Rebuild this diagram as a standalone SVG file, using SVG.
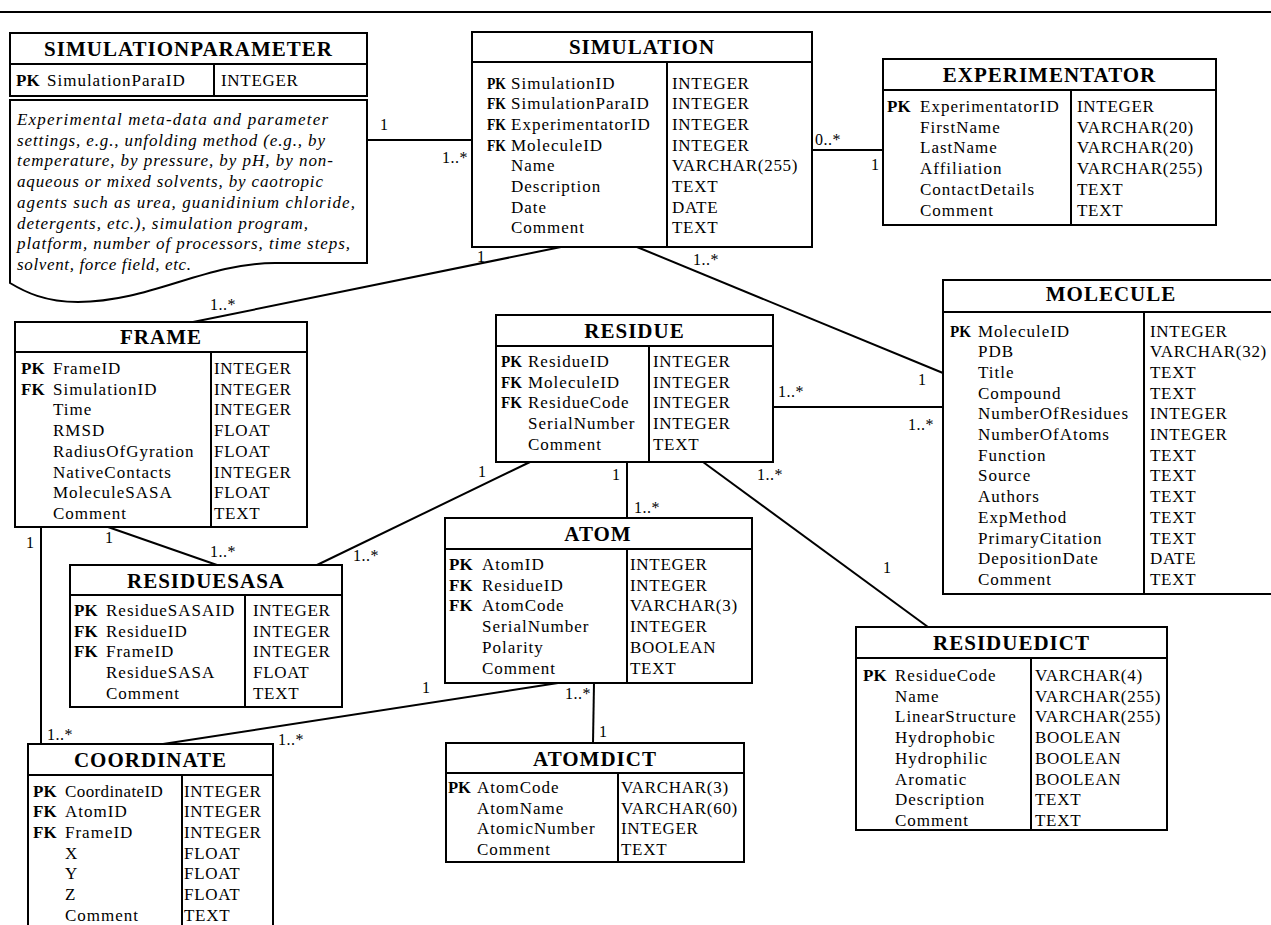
<svg xmlns="http://www.w3.org/2000/svg" width="1271" height="925" viewBox="0 0 1271 925">
<style>
.box{fill:#fff;stroke:#000;stroke-width:2}
.ln{stroke:#000;stroke-width:2;fill:none}
.t{font-family:"Liberation Serif","Times New Roman",serif;font-size:21px;font-weight:bold;text-anchor:middle;letter-spacing:1px;fill:#000}
.r{font-family:"Liberation Serif","Times New Roman",serif;font-size:17px;letter-spacing:1px;fill:#000}
.y{letter-spacing:0.7px}
.k{font-weight:bold;letter-spacing:0}
.n{font-family:"Liberation Serif","Times New Roman",serif;font-size:17px;font-style:italic;fill:#000}
.c{font-family:"Liberation Serif","Times New Roman",serif;font-size:16px;letter-spacing:0.5px;fill:#000}
</style>
<rect width="1271" height="925" fill="#fff"/>
<line x1="0" y1="12" x2="1271" y2="12" class="ln"/>

<g id="connectors">
<line x1="367" y1="140" x2="472" y2="140" class="ln"/>
<text x="380" y="130" class="c">1</text><text x="442" y="163" class="c">1..*</text>
<line x1="812" y1="150" x2="883" y2="150" class="ln"/>
<text x="815" y="145" class="c">0..*</text><text x="871" y="170" class="c">1</text>
<line x1="561" y1="247" x2="193" y2="322" class="ln"/>
<text x="477" y="262" class="c">1</text><text x="210" y="310" class="c">1..*</text>
<line x1="637" y1="247" x2="943" y2="373" class="ln"/>
<text x="693" y="265" class="c">1..*</text><text x="918" y="385" class="c">1</text>
<line x1="773" y1="407" x2="943" y2="407" class="ln"/>
<text x="778" y="397" class="c">1..*</text><text x="908" y="430" class="c">1..*</text>
<line x1="627" y1="462" x2="627" y2="518" class="ln"/>
<text x="612" y="480" class="c">1</text><text x="634" y="513" class="c">1..*</text>
<line x1="703" y1="462" x2="928" y2="627" class="ln"/>
<text x="757" y="480" class="c">1..*</text><text x="883" y="573" class="c">1</text>
<line x1="530" y1="462" x2="317" y2="565" class="ln"/>
<text x="478" y="477" class="c">1</text><text x="353" y="561" class="c">1..*</text>
<line x1="108" y1="527" x2="217" y2="565" class="ln"/>
<text x="105" y="543" class="c">1</text><text x="210" y="557" class="c">1..*</text>
<line x1="41" y1="527" x2="41" y2="744" class="ln"/>
<text x="26" y="548" class="c">1</text><text x="47" y="740" class="c">1..*</text>
<line x1="558" y1="683" x2="163" y2="744" class="ln"/>
<text x="422" y="693" class="c">1</text><text x="278" y="745" class="c">1..*</text>
<line x1="594" y1="683" x2="593" y2="743" class="ln"/>
<text x="565" y="699" class="c">1..*</text><text x="599" y="737" class="c">1</text>
</g>

<g id="simulationparameter">
<rect x="10" y="33" width="357" height="63" class="box"/>
<line x1="10" y1="64" x2="367" y2="64" class="ln"/>
<line x1="214" y1="64" x2="214" y2="96" class="ln"/>
<text x="188.5" y="55.5" class="t">SIMULATIONPARAMETER</text>
<text x="16" y="86" class="r k">PK</text>
<text x="47" y="86" class="r">SimulationParaID</text>
<text x="221" y="86" class="r y">INTEGER</text>
</g>

<g id="note">
<path d="M10,100 H367 V263 H275 C205,263 150,302 78,302 C45,302 25,292 10,283 Z" class="box"/>
<text class="n" x="17" y="125" textLength="311" lengthAdjust="spacing">Experimental meta-data and parameter</text>
<text class="n" x="17" y="145.7" textLength="308" lengthAdjust="spacing">settings, e.g., unfolding method (e.g., by</text>
<text class="n" x="17" y="166.4" textLength="316" lengthAdjust="spacing">temperature, by pressure, by pH, by non-</text>
<text class="n" x="17" y="187.1" textLength="306" lengthAdjust="spacing">aqueous or mixed solvents, by caotropic</text>
<text class="n" x="17" y="207.8" textLength="338" lengthAdjust="spacing">agents such as urea, guanidinium chloride,</text>
<text class="n" x="17" y="228.5" textLength="291" lengthAdjust="spacing">detergents, etc.), simulation program,</text>
<text class="n" x="17" y="249.2" textLength="333" lengthAdjust="spacing">platform, number of processors, time steps,</text>
<text class="n" x="17" y="269.9" textLength="174" lengthAdjust="spacing">solvent, force field, etc.</text>
</g>

<g id="simulation">
<rect x="472" y="32" width="340" height="215" class="box"/>
<line x1="472" y1="62" x2="812" y2="62" class="ln"/>
<line x1="667" y1="62" x2="667" y2="247" class="ln"/>
<text x="642" y="54" class="t">SIMULATION</text>
<text class="r k" x="487" y="88.5" textLength="19" lengthAdjust="spacingAndGlyphs">PK</text><text class="r" x="511" y="88.5">SimulationID</text><text class="r y" x="672" y="88.5">INTEGER</text>
<text class="r k" x="487" y="109.2" textLength="19" lengthAdjust="spacingAndGlyphs">FK</text><text class="r" x="511" y="109.2">SimulationParaID</text><text class="r y" x="672" y="109.2">INTEGER</text>
<text class="r k" x="487" y="129.9" textLength="19" lengthAdjust="spacingAndGlyphs">FK</text><text class="r" x="511" y="129.9">ExperimentatorID</text><text class="r y" x="672" y="129.9">INTEGER</text>
<text class="r k" x="487" y="150.6" textLength="19" lengthAdjust="spacingAndGlyphs">FK</text><text class="r" x="511" y="150.6">MoleculeID</text><text class="r y" x="672" y="150.6">INTEGER</text>
<text class="r" x="511" y="171.3">Name</text><text class="r y" x="672" y="171.3">VARCHAR(255)</text>
<text class="r" x="511" y="192">Description</text><text class="r y" x="672" y="192">TEXT</text>
<text class="r" x="511" y="212.7">Date</text><text class="r y" x="672" y="212.7">DATE</text>
<text class="r" x="511" y="233.4">Comment</text><text class="r y" x="672" y="233.4">TEXT</text>
</g>

<g id="experimentator">
<rect x="883" y="59" width="333" height="166" class="box"/>
<line x1="883" y1="90" x2="1216" y2="90" class="ln"/>
<line x1="1071" y1="90" x2="1071" y2="225" class="ln"/>
<text x="1049.5" y="82" class="t">EXPERIMENTATOR</text>
<text class="r k" x="887" y="112">PK</text><text class="r" x="920" y="112">ExperimentatorID</text><text class="r y" x="1077" y="112">INTEGER</text>
<text class="r" x="920" y="132.7">FirstName</text><text class="r y" x="1077" y="132.7">VARCHAR(20)</text>
<text class="r" x="920" y="153.4">LastName</text><text class="r y" x="1077" y="153.4">VARCHAR(20)</text>
<text class="r" x="920" y="174.1">Affiliation</text><text class="r y" x="1077" y="174.1">VARCHAR(255)</text>
<text class="r" x="920" y="194.8">ContactDetails</text><text class="r y" x="1077" y="194.8">TEXT</text>
<text class="r" x="920" y="215.5">Comment</text><text class="r y" x="1077" y="215.5">TEXT</text>
</g>

<g id="molecule">
<rect x="943" y="280" width="336" height="314" class="box"/>
<line x1="943" y1="312" x2="1279" y2="312" class="ln"/>
<line x1="1144" y1="312" x2="1144" y2="594" class="ln"/>
<text x="1111" y="301" class="t">MOLECULE</text>
<text class="r k" x="950" y="336.5" textLength="21" lengthAdjust="spacingAndGlyphs">PK</text><text class="r" x="978" y="336.5">MoleculeID</text><text class="r y" x="1150" y="336.5">INTEGER</text>
<text class="r" x="978" y="357.2">PDB</text><text class="r y" x="1150" y="357.2">VARCHAR(32)</text>
<text class="r" x="978" y="377.9">Title</text><text class="r y" x="1150" y="377.9">TEXT</text>
<text class="r" x="978" y="398.6">Compound</text><text class="r y" x="1150" y="398.6">TEXT</text>
<text class="r" x="978" y="419.3">NumberOfResidues</text><text class="r y" x="1150" y="419.3">INTEGER</text>
<text class="r" x="978" y="440">NumberOfAtoms</text><text class="r y" x="1150" y="440">INTEGER</text>
<text class="r" x="978" y="460.7">Function</text><text class="r y" x="1150" y="460.7">TEXT</text>
<text class="r" x="978" y="481.4">Source</text><text class="r y" x="1150" y="481.4">TEXT</text>
<text class="r" x="978" y="502.1">Authors</text><text class="r y" x="1150" y="502.1">TEXT</text>
<text class="r" x="978" y="522.8">ExpMethod</text><text class="r y" x="1150" y="522.8">TEXT</text>
<text class="r" x="978" y="543.5">PrimaryCitation</text><text class="r y" x="1150" y="543.5">TEXT</text>
<text class="r" x="978" y="564.2">DepositionDate</text><text class="r y" x="1150" y="564.2">DATE</text>
<text class="r" x="978" y="584.9">Comment</text><text class="r y" x="1150" y="584.9">TEXT</text>
</g>

<g id="frame">
<rect x="15" y="322" width="292" height="205" class="box"/>
<line x1="15" y1="352" x2="307" y2="352" class="ln"/>
<line x1="211" y1="352" x2="211" y2="527" class="ln"/>
<text x="161" y="344" class="t">FRAME</text>
<text class="r k" x="21" y="374">PK</text><text class="r" x="53" y="374">FrameID</text><text class="r y" x="214" y="374">INTEGER</text>
<text class="r k" x="21" y="394.7">FK</text><text class="r" x="53" y="394.7">SimulationID</text><text class="r y" x="214" y="394.7">INTEGER</text>
<text class="r" x="53" y="415.4">Time</text><text class="r y" x="214" y="415.4">INTEGER</text>
<text class="r" x="53" y="436.1">RMSD</text><text class="r y" x="214" y="436.1">FLOAT</text>
<text class="r" x="53" y="456.8">RadiusOfGyration</text><text class="r y" x="214" y="456.8">FLOAT</text>
<text class="r" x="53" y="477.5">NativeContacts</text><text class="r y" x="214" y="477.5">INTEGER</text>
<text class="r" x="53" y="498.2">MoleculeSASA</text><text class="r y" x="214" y="498.2">FLOAT</text>
<text class="r" x="53" y="518.9">Comment</text><text class="r y" x="214" y="518.9">TEXT</text>
</g>

<g id="residue">
<rect x="496" y="315" width="277" height="147" class="box"/>
<line x1="496" y1="346" x2="773" y2="346" class="ln"/>
<line x1="649" y1="346" x2="649" y2="462" class="ln"/>
<text x="634.5" y="337.5" class="t">RESIDUE</text>
<text class="r k" x="501" y="367" textLength="21" lengthAdjust="spacingAndGlyphs">PK</text><text class="r" x="528" y="367">ResidueID</text><text class="r y" x="653" y="367">INTEGER</text>
<text class="r k" x="501" y="387.7" textLength="21" lengthAdjust="spacingAndGlyphs">FK</text><text class="r" x="528" y="387.7">MoleculeID</text><text class="r y" x="653" y="387.7">INTEGER</text>
<text class="r k" x="501" y="408.4" textLength="21" lengthAdjust="spacingAndGlyphs">FK</text><text class="r" x="528" y="408.4">ResidueCode</text><text class="r y" x="653" y="408.4">INTEGER</text>
<text class="r" x="528" y="429.1">SerialNumber</text><text class="r y" x="653" y="429.1">INTEGER</text>
<text class="r" x="528" y="449.8">Comment</text><text class="r y" x="653" y="449.8">TEXT</text>
</g>

<g id="residuesasa">
<rect x="70" y="565" width="272" height="142" class="box"/>
<line x1="70" y1="595" x2="342" y2="595" class="ln"/>
<line x1="245" y1="595" x2="245" y2="707" class="ln"/>
<text x="206" y="587.5" class="t">RESIDUESASA</text>
<text class="r k" x="74" y="616">PK</text><text class="r" x="106" y="616">ResidueSASAID</text><text class="r y" x="253" y="616">INTEGER</text>
<text class="r k" x="74" y="636.7">FK</text><text class="r" x="106" y="636.7">ResidueID</text><text class="r y" x="253" y="636.7">INTEGER</text>
<text class="r k" x="74" y="657.4">FK</text><text class="r" x="106" y="657.4">FrameID</text><text class="r y" x="253" y="657.4">INTEGER</text>
<text class="r" x="106" y="678.1">ResidueSASA</text><text class="r y" x="253" y="678.1">FLOAT</text>
<text class="r" x="106" y="698.8">Comment</text><text class="r y" x="253" y="698.8">TEXT</text>
</g>

<g id="coordinate">
<rect x="28" y="744" width="245" height="200" class="box"/>
<line x1="28" y1="775" x2="273" y2="775" class="ln"/>
<line x1="182" y1="775" x2="182" y2="944" class="ln"/>
<text x="150.5" y="766.5" class="t">COORDINATE</text>
<text class="r k" x="33" y="796.5">PK</text><text class="r" x="65" y="796.5" style="letter-spacing:0.4px">CoordinateID</text><text class="r y" x="184" y="796.5">INTEGER</text>
<text class="r k" x="33" y="817.2">FK</text><text class="r" x="65" y="817.2">AtomID</text><text class="r y" x="184" y="817.2">INTEGER</text>
<text class="r k" x="33" y="837.9">FK</text><text class="r" x="65" y="837.9">FrameID</text><text class="r y" x="184" y="837.9">INTEGER</text>
<text class="r" x="65" y="858.6">X</text><text class="r y" x="184" y="858.6">FLOAT</text>
<text class="r" x="65" y="879.3">Y</text><text class="r y" x="184" y="879.3">FLOAT</text>
<text class="r" x="65" y="900">Z</text><text class="r y" x="184" y="900">FLOAT</text>
<text class="r" x="65" y="920.7">Comment</text><text class="r y" x="184" y="920.7">TEXT</text>
</g>

<g id="atom">
<rect x="445" y="518" width="307" height="165" class="box"/>
<line x1="445" y1="549" x2="752" y2="549" class="ln"/>
<line x1="627" y1="549" x2="627" y2="683" class="ln"/>
<text x="598" y="541" class="t">ATOM</text>
<text class="r k" x="449" y="570">PK</text><text class="r" x="482" y="570">AtomID</text><text class="r y" x="630" y="570">INTEGER</text>
<text class="r k" x="449" y="590.7">FK</text><text class="r" x="482" y="590.7">ResidueID</text><text class="r y" x="630" y="590.7">INTEGER</text>
<text class="r k" x="449" y="611.4">FK</text><text class="r" x="482" y="611.4">AtomCode</text><text class="r y" x="630" y="611.4">VARCHAR(3)</text>
<text class="r" x="482" y="632.1">SerialNumber</text><text class="r y" x="630" y="632.1">INTEGER</text>
<text class="r" x="482" y="652.8">Polarity</text><text class="r y" x="630" y="652.8">BOOLEAN</text>
<text class="r" x="482" y="673.5">Comment</text><text class="r y" x="630" y="673.5">TEXT</text>
</g>

<g id="atomdict">
<rect x="446" y="743" width="298" height="119" class="box"/>
<line x1="446" y1="773" x2="744" y2="773" class="ln"/>
<line x1="618" y1="773" x2="618" y2="862" class="ln"/>
<text x="595" y="765.5" class="t">ATOMDICT</text>
<text class="r k" x="448" y="793" textLength="23" lengthAdjust="spacingAndGlyphs">PK</text><text class="r" x="477" y="793">AtomCode</text><text class="r y" x="621" y="793">VARCHAR(3)</text>
<text class="r" x="477" y="813.7">AtomName</text><text class="r y" x="621" y="813.7">VARCHAR(60)</text>
<text class="r" x="477" y="834.4">AtomicNumber</text><text class="r y" x="621" y="834.4">INTEGER</text>
<text class="r" x="477" y="855.1">Comment</text><text class="r y" x="621" y="855.1">TEXT</text>
</g>

<g id="residuedict">
<rect x="856" y="627" width="311" height="203" class="box"/>
<line x1="856" y1="658" x2="1167" y2="658" class="ln"/>
<line x1="1031" y1="658" x2="1031" y2="830" class="ln"/>
<text x="1011.5" y="650" class="t">RESIDUEDICT</text>
<text class="r k" x="863" y="681">PK</text><text class="r" x="895" y="681">ResidueCode</text><text class="r y" x="1035" y="681">VARCHAR(4)</text>
<text class="r" x="895" y="701.7">Name</text><text class="r y" x="1035" y="701.7">VARCHAR(255)</text>
<text class="r" x="895" y="722.4">LinearStructure</text><text class="r y" x="1035" y="722.4">VARCHAR(255)</text>
<text class="r" x="895" y="743.1">Hydrophobic</text><text class="r y" x="1035" y="743.1">BOOLEAN</text>
<text class="r" x="895" y="763.8">Hydrophilic</text><text class="r y" x="1035" y="763.8">BOOLEAN</text>
<text class="r" x="895" y="784.5">Aromatic</text><text class="r y" x="1035" y="784.5">BOOLEAN</text>
<text class="r" x="895" y="805.2">Description</text><text class="r y" x="1035" y="805.2">TEXT</text>
<text class="r" x="895" y="825.9">Comment</text><text class="r y" x="1035" y="825.9">TEXT</text>
</g>
</svg>
